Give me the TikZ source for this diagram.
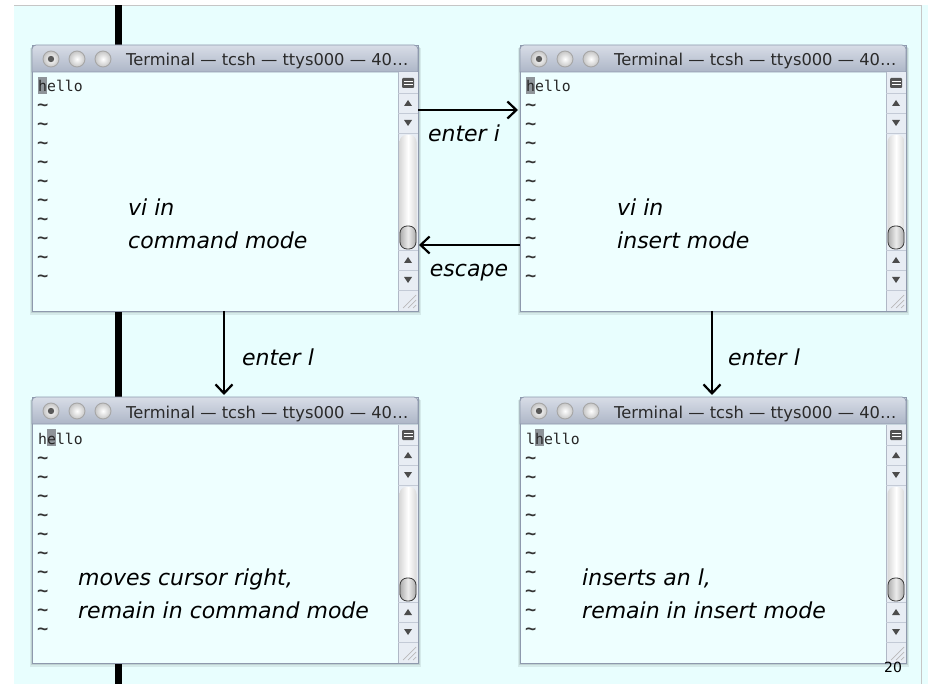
\documentclass[tikz,border=0pt]{standalone}
\usepackage{fontspec}
\setmainfont{DejaVu Sans}
\newfontfamily\monofnt{DejaVu Sans Mono}
\usetikzlibrary{arrows.meta,calc}

\definecolor{slidebg}{HTML}{E8FEFE}
\definecolor{winbg}{HTML}{EEFFFF}
\definecolor{winframe}{HTML}{8E99AD}
\definecolor{tbtop}{HTML}{D8DDE7}
\definecolor{tbbot}{HTML}{ADB6C7}
\definecolor{cursgray}{HTML}{8E9499}
\definecolor{titletxt}{HTML}{2A2A2A}
\definecolor{sbbg}{HTML}{E8EDF4}
\definecolor{sbsep}{HTML}{C3CAD6}

\tikzset{
  winbox/.style={draw=winframe, line width=0.8pt, fill=winbg, inner sep=0pt, outer sep=0pt,
                 minimum width=386pt, minimum height=266pt},
  mono/.style={font=\monofnt\fontsize{14.8}{17}\selectfont, text=black!85, inner sep=0pt},
  tilde/.style={font=\monofnt\bfseries\fontsize{15}{17}\selectfont, text=black!80, inner sep=0pt},
  wintitle/.style={font=\fontsize{16.3}{18}\selectfont, text=titletxt, inner sep=0pt},
  lbl/.style={font=\fontsize{22}{26}\selectfont\itshape, inner sep=0pt},
  arr/.style={line width=2.3pt, -{Straight Barb[length=9pt,width=17pt,line width=2.2pt]}},
}

% cursor cell of vi
\newcommand\curs[1]{{\fboxsep=0pt\colorbox{cursgray}{\rule[-2pt]{0pt}{17pt}#1}}}

% terminal window: #1 name, #2 left, #3 top, #4 first text line
\newcommand\termwin[4]{%
\begin{scope}[shift={(#2,#3)}]
  \fill[black, opacity=0.10] (-1,2) rectangle (388,268);
  \fill[black, opacity=0.08] (-2,3) rectangle (389,270);
  \node[winbox, anchor=north west] (#1) at (0,0) {};
  % title bar
  \path[top color=tbtop, bottom color=tbbot, draw=winframe, line width=0.8pt]
    (0,27) {[rounded corners=4pt] -- (0,0) -- (386,0)} -- (386,27) -- cycle;
  \foreach \cx in {19,45,71} {
    \shade[inner color=white, outer color=gray!45] (\cx,14) circle (8);
    \draw[gray!70, line width=0.9pt] (\cx,14) circle (8);
  }
  \fill[gray!70!black] (19,14) circle (3.2);
  \node[wintitle, anchor=base west] (#1-title) at (94,21) {Terminal — tcsh — ttys000 — 40…};
  % scroll bar
  \fill[sbbg] (366,27.5) rectangle (385.6,265.6);
  \draw[winframe!70, line width=0.6pt] (366,27.5) -- (366,265.6);
  \foreach \sy in {48,68,88,205,225,245}
    \draw[sbsep, line width=0.6pt] (366,\sy) -- (385.6,\sy);
  \fill[gray!65!black, rounded corners=1pt] (370,33) rectangle (382,43);
  \draw[white, line width=0.8pt] (371.5,36.3) -- (380.5,36.3) (371.5,39.7) -- (380.5,39.7);
  \foreach \ay in {58,215} \fill[gray!60!black] (372,\ay+3) -- (380,\ay+3) -- (376,\ay-3) -- cycle;
  \foreach \ay in {78,235} \fill[gray!60!black] (372,\ay-3) -- (380,\ay-3) -- (376,\ay+3) -- cycle;
  \shade[left color=gray!30, right color=gray!30, middle color=white, rounded corners=7pt]
    (367.5,90) rectangle (384.5,204);
  \shade[left color=gray!65, right color=gray!65, middle color=gray!15, rounded corners=7pt]
    (368,181) rectangle (384,204);
  \draw[gray!45!black, line width=0.8pt, rounded corners=7pt] (368,181) rectangle (384,204);
  \draw[gray!55, line width=0.7pt] (384,250) -- (371,263) (384,255) -- (376,263) (384,260) -- (381,263);
  % buffer text
  \node[mono, anchor=base west] (#1-l0) at (6,47) {#4};
  \foreach \k in {1,...,10}
    \node[tilde, anchor=base west] (#1-l\k) at (5,47+19*\k) {\scalebox{1.25}[1.1]{\textasciitilde}};
\end{scope}}

\begin{document}
\begin{tikzpicture}[x=1pt, y=-1pt]
  \useasboundingbox (0,0) rectangle (928,684);
  \fill[white] (0,0) rectangle (928,684);
  \fill[slidebg] (14,5) rectangle (928,684);
  \draw[gray!45, line width=0.6pt] (14,5) -- (921,5) -- (921,684);
  % vertical rule of the slide
  \fill[black] (115,5) rectangle (122,684);

  \termwin{w1}{32}{45}{\curs{h}ello}
  \termwin{w2}{520}{45}{\curs{h}ello}
  \termwin{w3}{32}{397}{h\curs{e}llo}
  \termwin{w4}{520}{397}{l\curs{h}ello}

  % window captions
  \node[lbl, anchor=base west] (c1a) at ($(w1.north west)+(96,171)$) {vi in};
  \node[lbl, anchor=base west] (c1b) at ($(w1.north west)+(96,204)$) {command mode};
  \node[lbl, anchor=base west] (c2a) at ($(w2.north west)+(97,171)$) {vi in};
  \node[lbl, anchor=base west] (c2b) at ($(w2.north west)+(97,204)$) {insert mode};
  \node[lbl, anchor=base west] (c3a) at ($(w3.north west)+(46,188)$) {moves cursor right,};
  \node[lbl, anchor=base west] (c3b) at ($(w3.north west)+(46,221)$) {remain in command mode};
  \node[lbl, anchor=base west] (c4a) at ($(w4.north west)+(62,188)$) {inserts an l,};
  \node[lbl, anchor=base west] (c4b) at ($(w4.north west)+(62,221)$) {remain in insert mode};

  % transitions
  \draw[arr] ($(w1.north east)+(0,65)$) -- ($(w2.north west)+(-2,65)$);
  \draw[arr] ($(w2.north west)+(0,200)$) -- ($(w1.north east)+(1,200)$);
  \draw[arr] ($(w1.south west)+(192,0)$) -- ($(w3.north west)+(192,-2)$);
  \draw[arr] ($(w2.south west)+(192,0)$) -- ($(w4.north west)+(192,-2)$);

  \node[lbl, anchor=base] (ei) at (464,142) {enter i};
  \node[lbl, anchor=base] (es) at (469,277) {escape};
  \node[lbl, anchor=base] (el1) at (278,365) {enter l};
  \node[lbl, anchor=base] (el2) at (764,365) {enter l};

  \node[font=\fontsize{14}{16}\selectfont, inner sep=0pt, anchor=base] (pg) at (893,672) {20};
\end{tikzpicture}
\end{document}
